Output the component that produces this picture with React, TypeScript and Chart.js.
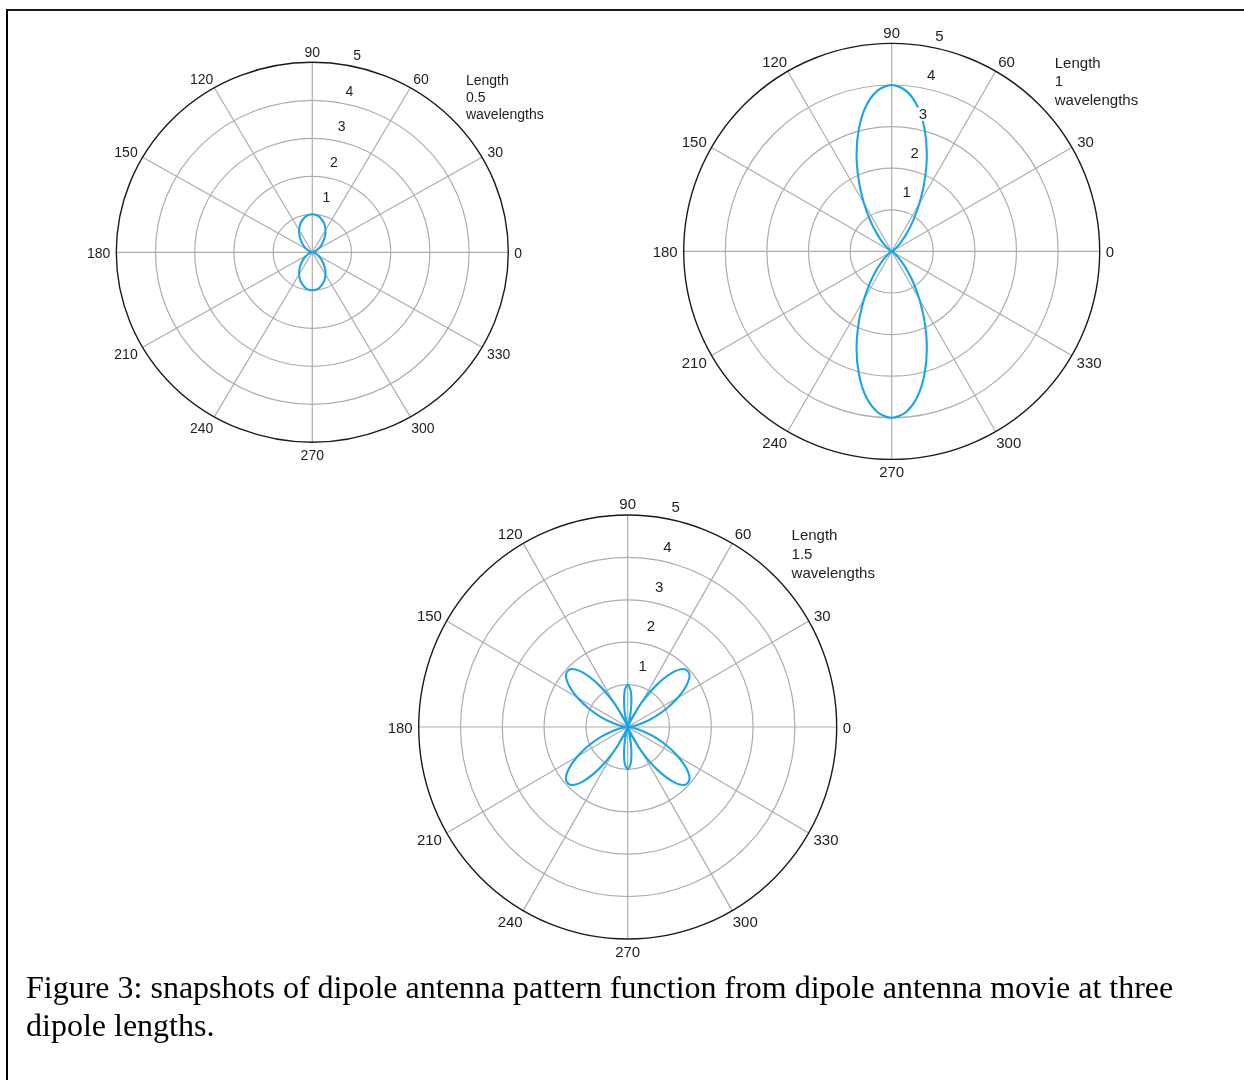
import React, { useEffect, useRef } from "react";
import { Chart, registerables } from "chart.js";

Chart.register(...registerables);

// ---------- data ----------
const ANGLES_DEG = [
  0, 5, 10, 15, 20, 25, 30, 35, 40, 45, 50, 55, 60, 65, 70, 75, 80, 85, 90,
  95, 100, 105, 110, 115, 120, 125, 130, 135, 140, 145, 150, 155, 160, 165, 170, 175, 180,
  185, 190, 195, 200, 205, 210, 215, 220, 225, 230, 235, 240, 245, 250, 255, 260, 265, 270,
  275, 280, 285, 290, 295, 300, 305, 310, 315, 320, 325, 330, 335, 340, 345, 350, 355, 360,
];

// Length 0.5 wavelengths
const R_HALF_WAVE = [
  0, 0.005, 0.02, 0.04, 0.08, 0.12, 0.17, 0.24, 0.31, 0.39, 0.48, 0.58, 0.67, 0.76, 0.84, 0.9, 0.96, 0.99, 1.0,
  0.99, 0.96, 0.9, 0.84, 0.76, 0.67, 0.58, 0.48, 0.39, 0.31, 0.24, 0.17, 0.12, 0.08, 0.04, 0.02, 0.005, 0,
  0.005, 0.02, 0.04, 0.08, 0.12, 0.17, 0.24, 0.31, 0.39, 0.48, 0.58, 0.67, 0.76, 0.84, 0.9, 0.96, 0.99, 1.0,
  0.99, 0.96, 0.9, 0.84, 0.76, 0.67, 0.58, 0.48, 0.39, 0.31, 0.24, 0.17, 0.12, 0.08, 0.04, 0.02, 0.005, 0,
];

// Length 1 wavelengths
const R_ONE_WAVE = [
  0, 0, 0, 0.0005, 0.003, 0.01, 0.03, 0.07, 0.16, 0.31, 0.55, 0.89, 1.33, 1.87, 2.47, 3.05, 3.55, 3.88, 4.0,
  3.88, 3.55, 3.05, 2.47, 1.87, 1.33, 0.89, 0.55, 0.31, 0.16, 0.07, 0.03, 0.01, 0.003, 0.0005, 0, 0, 0,
  0, 0, 0.0005, 0.003, 0.01, 0.03, 0.07, 0.16, 0.31, 0.55, 0.89, 1.33, 1.87, 2.47, 3.05, 3.55, 3.88, 4.0,
  3.88, 3.55, 3.05, 2.47, 1.87, 1.33, 0.89, 0.55, 0.31, 0.16, 0.07, 0.03, 0.01, 0.003, 0.0005, 0, 0, 0,
];

// Length 1.5 wavelengths
const R_ONE_HALF_WAVE = [
  0, 0.04, 0.17, 0.38, 0.67, 1.02, 1.39, 1.72, 1.93, 1.93, 1.68, 1.22, 0.67, 0.2, 0, 0.13, 0.48, 0.85, 1.0,
  0.85, 0.48, 0.13, 0, 0.2, 0.67, 1.22, 1.68, 1.93, 1.93, 1.72, 1.39, 1.02, 0.67, 0.38, 0.17, 0.04, 0,
  0.04, 0.17, 0.38, 0.67, 1.02, 1.39, 1.72, 1.93, 1.93, 1.68, 1.22, 0.67, 0.2, 0, 0.13, 0.48, 0.85, 1.0,
  0.85, 0.48, 0.13, 0, 0.2, 0.67, 1.22, 1.68, 1.93, 1.93, 1.72, 1.39, 1.02, 0.67, 0.38, 0.17, 0.04, 0,
];

const ANGLE_TICKS = [0, 30, 60, 90, 120, 150, 180, 210, 240, 270, 300, 330];
const SPOKE_ANGLES = [0, 30, 60, 90, 120, 150];
const RING_TICKS = [1, 2, 3, 4, 5];

const LEGEND_HALF = ["Length", "0.5", "wavelengths"];
const LEGEND_ONE = ["Length", "1", "wavelengths"];
const LEGEND_ONE_HALF = ["Length", "1.5", "wavelengths"];

const CAPTION_LINE_1 =
  "Figure 3: snapshots of dipole antenna pattern function from dipole antenna movie at three";
const CAPTION_LINE_2 = "dipole lengths.";

// ---------- layout / style ----------
const PLOTS = [
  { cx: 312.3, cy: 252.3, rx: 196, ry: 190, fs: 14, values: R_HALF_WAVE, legend: LEGEND_HALF },
  { cx: 891.7, cy: 251.4, rx: 208, ry: 208, fs: 15, values: R_ONE_WAVE, legend: LEGEND_ONE },
  { cx: 627.7, cy: 727, rx: 209, ry: 212, fs: 15, values: R_ONE_HALF_WAVE, legend: LEGEND_ONE_HALF },
];
const PAD = { l: 60, r: 80, t: 45, b: 42 };
const RMAX = 5;
const GRID_COLOR = "#adadad";
const OUTER_COLOR = "#1a1a1a";
const TEXT_COLOR = "#1e1e1e";
const CURVE_COLOR = "#1aa5e8";
const FONT_FAMILY = '"Liberation Sans", Arial, Helvetica, sans-serif';

const polarGrid = {
  id: "polarGrid",
  beforeDatasetsDraw(chart: any, _args: any, opts: any) {
    const { ctx } = chart;
    const xs = chart.scales.x;
    const ys = chart.scales.y;
    const cx = xs.getPixelForValue(0);
    const cy = ys.getPixelForValue(0);
    const ux = xs.getPixelForValue(1) - cx;
    const uy = cy - ys.getPixelForValue(1);
    ctx.save();
    ctx.strokeStyle = GRID_COLOR;
    ctx.lineWidth = 1.2;
    RING_TICKS.forEach((r) => {
      if (r === RMAX) return;
      ctx.beginPath();
      ctx.ellipse(cx, cy, r * ux, r * uy, 0, 0, Math.PI * 2);
      ctx.stroke();
    });
    SPOKE_ANGLES.forEach((a) => {
      const t = (a * Math.PI) / 180;
      ctx.beginPath();
      ctx.moveTo(xs.getPixelForValue(-RMAX * Math.cos(t)), ys.getPixelForValue(-RMAX * Math.sin(t)));
      ctx.lineTo(xs.getPixelForValue(RMAX * Math.cos(t)), ys.getPixelForValue(RMAX * Math.sin(t)));
      ctx.stroke();
    });
    ctx.strokeStyle = OUTER_COLOR;
    ctx.lineWidth = 1.4;
    ctx.beginPath();
    ctx.ellipse(cx, cy, RMAX * ux, RMAX * uy, 0, 0, Math.PI * 2);
    ctx.stroke();

    // angle labels
    const fs = opts.fontSize;
    ctx.font = `${fs}px ${FONT_FAMILY}`;
    ctx.fillStyle = TEXT_COLOR;
    ctx.textAlign = "center";
    ctx.textBaseline = "middle";
    const gap = 6;
    const h = fs * 0.72;
    ANGLE_TICKS.forEach((a) => {
      const t = (a * Math.PI) / 180;
      const c = Math.cos(t);
      const s = Math.sin(t);
      const label = String(a);
      const w = ctx.measureText(label).width;
      const push = Math.abs(c) > 0.01 ? Math.sign(c) * 5 * s * s : 0;
      const px = cx + (RMAX * ux + gap) * c + (c * w) / 2 + push;
      const py = cy - (RMAX * uy + gap) * s - (s * h) / 2 + 1.5 + (s < -0.01 ? 1 : 0);
      ctx.fillText(label, px, py);
    });
    ctx.restore();
  },
  afterDatasetsDraw(chart: any, _args: any, opts: any) {
    const { ctx } = chart;
    const xs = chart.scales.x;
    const ys = chart.scales.y;
    const fs = opts.fontSize;
    ctx.save();
    ctx.font = `${fs}px ${FONT_FAMILY}`;
    ctx.textAlign = "center";
    ctx.textBaseline = "middle";
    RING_TICKS.forEach((r) => {
      const px = xs.getPixelForValue(0.16 + 0.197 * r);
      const py = ys.getPixelForValue(0.49 + 0.937 * r);
      const label = String(r);
      const w = ctx.measureText(label).width;
      ctx.fillStyle = "#ffffff";
      ctx.fillRect(px - w / 2 - 1.5, py - fs * 0.45, w + 3, fs * 0.9);
      ctx.fillStyle = TEXT_COLOR;
      ctx.fillText(label, px, py + 0.5);
    });
    ctx.textAlign = "left";
    ctx.fillStyle = TEXT_COLOR;
    (opts.legend as string[]).forEach((line, i) => {
      const px = xs.getPixelForValue(3.92);
      const py = ys.getPixelForValue(4.53 - 0.445 * i);
      ctx.fillText(line, px, py + 0.8);
    });
    ctx.restore();
  },
};

function canvasBox(p: (typeof PLOTS)[number]) {
  const left = Math.floor(p.cx - p.rx - PAD.l);
  const top = Math.floor(p.cy - p.ry - PAD.t);
  const width = Math.ceil(2 * p.rx + PAD.l + PAD.r);
  const height = Math.ceil(2 * p.ry + PAD.t + PAD.b);
  return {
    left,
    top,
    width,
    height,
    padding: {
      left: p.cx - p.rx - left,
      top: p.cy - p.ry - top,
      right: width - (p.cx + p.rx - left),
      bottom: height - (p.cy + p.ry - top),
    },
  };
}

function PolarPlot({ plot }: { plot: (typeof PLOTS)[number] }) {
  const ref = useRef<HTMLCanvasElement | null>(null);
  const box = canvasBox(plot);
  useEffect(() => {
    if (!ref.current) return;
    const points = ANGLES_DEG.map((a, i) => {
      const t = (a * Math.PI) / 180;
      return { x: plot.values[i] * Math.cos(t), y: plot.values[i] * Math.sin(t) };
    });
    const chart = new Chart(ref.current, {
      type: "scatter",
      data: {
        datasets: [
          {
            data: points,
            showLine: true,
            borderColor: CURVE_COLOR,
            backgroundColor: CURVE_COLOR,
            borderWidth: 2.1,
            pointRadius: 0,
            tension: 0.3,
            fill: false,
          } as any,
        ],
      },
      options: {
        animation: false,
        responsive: false,
        maintainAspectRatio: false,
        devicePixelRatio: 1,
        layout: { padding: box.padding },
        events: [],
        scales: {
          x: { type: "linear", min: -RMAX, max: RMAX, display: false },
          y: { type: "linear", min: -RMAX, max: RMAX, display: false },
        },
        plugins: {
          legend: { display: false },
          tooltip: { enabled: false },
          polarGrid: { fontSize: plot.fs, legend: plot.legend },
        } as any,
      },
      plugins: [polarGrid],
    });
    return () => chart.destroy();
  }, []);
  return (
    <canvas
      ref={ref}
      width={box.width}
      height={box.height}
      style={{ position: "absolute", left: box.left, top: box.top, width: box.width, height: box.height }}
    />
  );
}

export default function App() {
  return (
    <div>
      <div
        style={{
          position: "absolute",
          left: 6,
          top: 9,
          width: 1238,
          height: 1071,
          boxSizing: "border-box",
          borderTop: "2px solid #1a1a1a",
          borderLeft: "2px solid #000",
        }}
      />
      {PLOTS.map((p, i) => (
        <PolarPlot key={i} plot={p} />
      ))}
      <div
        style={{
          position: "absolute",
          left: 26,
          top: 968,
          fontFamily: '"Liberation Serif", "Times New Roman", serif',
          fontSize: 32,
          lineHeight: "38px",
          color: "#000",
          whiteSpace: "nowrap",
        }}
      >
        {CAPTION_LINE_1}
        <br />
        {CAPTION_LINE_2}
      </div>
    </div>
  );
}
